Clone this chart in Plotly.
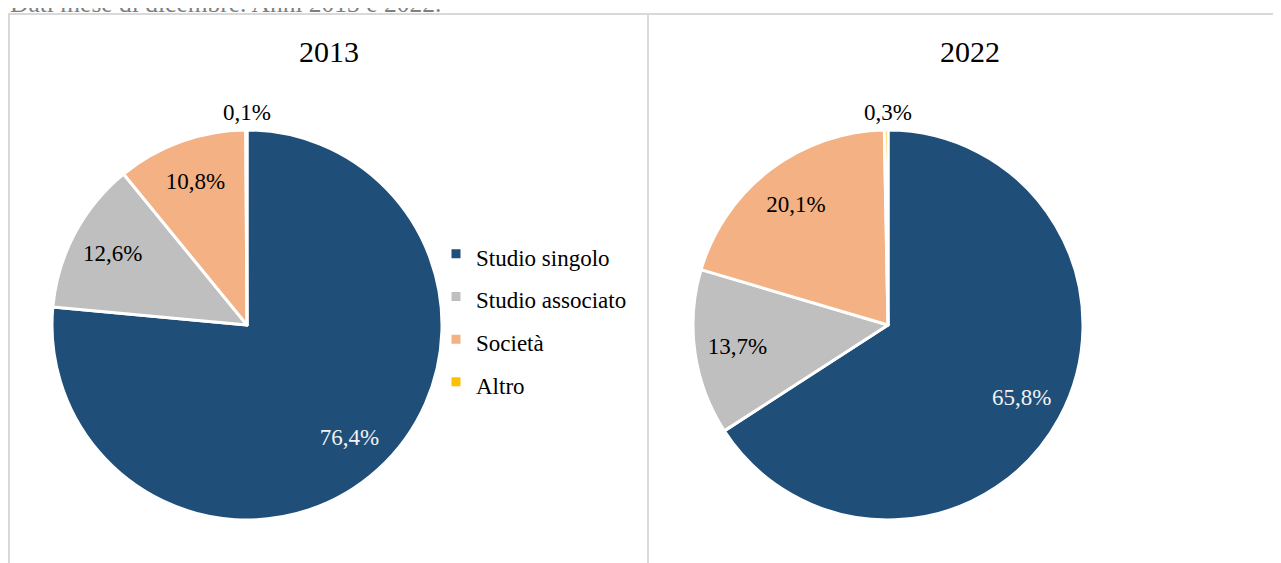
import plotly.graph_objects as go

categories = ["Studio singolo", "Studio associato", "Società", "Altro"]
values_2013 = [76.4, 12.6, 10.8, 0.1]
values_2022 = [65.8, 13.7, 20.1, 0.3]
years = ["2013", "2022"]
colors = ["#1F4E79", "#BFBFBF", "#F4B183", "#FFC000"]
subtitle = "Dati mese di dicembre. Anni 2013 e 2022."

# page body has an 8px margin: figure occupies screen (8,8)-(1281,563)
OFF = 8
W, H = 1281 - OFF, 563 - OFF
FONT = "Liberation Serif"


def px_x(x):
    return (x - OFF) / W


def px_y(y):
    return (H - (y - OFF)) / H


def it_pct(v):
    return f"{v:.1f}".replace(".", ",") + "%"


legend_labels = ['<span style="font-size:23px">%s</span>' % c for c in categories]
label_colors = ["#F2F2F2", "#000000", "#000000", "#000000"]
clear = ["rgba(0,0,0,0)"] * 4

fig = go.Figure()
R, CY = 195, 325
TITLE_SPACE = 28  # room plotly reserves above a pie for a top title
RT = R + 7        # slightly larger invisible pie whose title labels the tiny "Altro" slice
for vals, cx, leg in [(values_2013, 247, "legend"), (values_2022, 888, "legend2")]:
    dom = dict(x=[px_x(cx - R), px_x(cx + R)], y=[px_y(CY + R), px_y(CY - R)])
    dom_t = dict(x=[px_x(cx - RT), px_x(cx + RT)], y=[px_y(CY + RT), px_y(CY - RT - TITLE_SPACE)])
    # visible pie
    fig.add_trace(go.Pie(
        labels=legend_labels,
        values=vals,
        sort=False,
        direction="clockwise",
        rotation=0,
        marker=dict(colors=colors, line=dict(color="white", width=3)),
        textinfo="none",
        domain=dom,
        hoverinfo="label+value",
        legend=leg,
        showlegend=True,
    ))
    # transparent ring carrying the data labels
    fig.add_trace(go.Pie(
        labels=legend_labels,
        values=vals,
        sort=False,
        direction="clockwise",
        rotation=0,
        hole=0.56,
        marker=dict(colors=clear, line=dict(width=0)),
        texttemplate="%{value:.1f}%",
        textposition=["inside", "inside", "inside", "none"],
        insidetextorientation="horizontal",
        insidetextfont=dict(family=FONT, size=23, color=label_colors),
        domain=dom,
        hoverinfo="skip",
        showlegend=False,
        legend=leg,
    ))
    # invisible pie: its top title shows the "Altro" value above the pie
    fig.add_trace(go.Pie(
        labels=legend_labels,
        values=vals,
        sort=False,
        direction="clockwise",
        marker=dict(colors=clear, line=dict(width=0)),
        textinfo="none",
        title=dict(text=it_pct(vals[3]), position="top center",
                   font=dict(family=FONT, size=23, color="#000000")),
        domain=dom_t,
        hoverinfo="skip",
        showlegend=False,
        legend=leg,
    ))

legend_common = dict(
    font=dict(family=FONT, size=30.5, color="#000000"),
    bgcolor="rgba(0,0,0,0)",
    xanchor="left",
    yanchor="middle",
    y=px_y(318),
    itemclick=False,
)

fig.update_layout(
    width=W,
    height=H,
    margin=dict(l=0, r=0, t=0, b=0),
    paper_bgcolor="white",
    plot_bgcolor="white",
    separators=",.",
    font=dict(family=FONT),
    legend=dict(x=px_x(436), **legend_common),
    legend2=dict(x=px_x(1076), **legend_common),
    annotations=[
        dict(text=years[0], x=px_x(329), y=px_y(52), xref="paper", yref="paper",
             xanchor="center", yanchor="middle",
             showarrow=False, font=dict(family=FONT, size=30, color="#000000")),
        dict(text=years[1], x=px_x(970), y=px_y(52), xref="paper", yref="paper",
             xanchor="center", yanchor="middle",
             showarrow=False, font=dict(family=FONT, size=30, color="#000000")),
        dict(text=subtitle, x=0, y=1, xref="paper", yref="paper", xanchor="left", yanchor="bottom",
             yshift=-12, showarrow=False, font=dict(family=FONT, size=25.5, color="#7F7F7F")),
    ],
    shapes=[
        dict(type="rect", xref="paper", yref="paper", x0=px_x(9), x1=px_x(1300), y0=px_y(600), y1=px_y(14),
             line=dict(color="#D9D9D9", width=2), fillcolor="rgba(0,0,0,0)", layer="below"),
        dict(type="line", xref="paper", yref="paper", x0=px_x(648), x1=px_x(648), y0=px_y(600), y1=px_y(14),
             line=dict(color="#D9D9D9", width=2), layer="below"),
    ],
)

fig.write_html("out.html")
